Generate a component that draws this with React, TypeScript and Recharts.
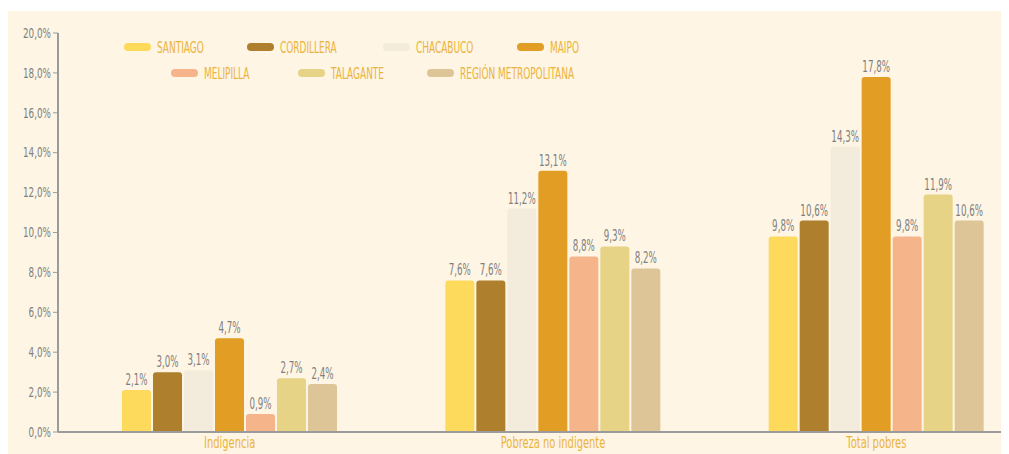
import { BarChart, Bar, XAxis, YAxis, LabelList } from "recharts";

const categories = ["Indigencia", "Pobreza no indigente", "Total pobres"];

const santiago = [2.1, 7.6, 9.8];
const cordillera = [3.0, 7.6, 10.6];
const chacabuco = [3.1, 11.2, 14.3];
const maipo = [4.7, 13.1, 17.8];
const melipilla = [0.9, 8.8, 9.8];
const talagante = [2.7, 9.3, 11.9];
const regionMetropolitana = [2.4, 8.2, 10.6];

const yTicks = [0, 2, 4, 6, 8, 10, 12, 14, 16, 18, 20];

const series = [
  { key: "santiago", name: "SANTIAGO", values: santiago, color: "#FDD95C" },
  { key: "cordillera", name: "CORDILLERA", values: cordillera, color: "#AE7F2D" },
  { key: "chacabuco", name: "CHACABUCO", values: chacabuco, color: "#F3ECDD" },
  { key: "maipo", name: "MAIPO", values: maipo, color: "#E29D25" },
  { key: "melipilla", name: "MELIPILLA", values: melipilla, color: "#F6B48B" },
  { key: "talagante", name: "TALAGANTE", values: talagante, color: "#E6D385" },
  {
    key: "rm",
    name: "REGIÓN METROPOLITANA",
    values: regionMetropolitana,
    color: "#DEC597",
  },
];

const data = categories.map((cat, i) => {
  const row: Record<string, string | number> = { cat };
  series.forEach((s) => {
    row[s.key] = s.values[i];
  });
  return row;
});

const FONT = "'DejaVu Sans', sans-serif";
const BG = "#FEF5E4";
const GOLD = "#EBB33A";
const GREY = "#7f7f7f";
const AXIS = "#9b9b9b";

const fmt = (v: number) => `${v.toFixed(1).replace(".", ",")}%`;

// the original uses a narrow display face; squeeze DejaVu horizontally
const YTick = (props: any) => {
  const { x, y, payload } = props;
  return (
    <text
      transform={`translate(${x},${y}) scale(0.63,1)`}
      textAnchor="end"
      dominantBaseline="central"
      fill={GREY}
      fontSize={14}
      fontFamily={FONT}
    >
      {fmt(payload.value)}
    </text>
  );
};

const XTick = (props: any) => {
  const { x, y, payload } = props;
  return (
    <text
      transform={`translate(${x},${y + 8}) scale(0.62,1)`}
      textAnchor="middle"
      fill={GOLD}
      fontSize={16}
      fontFamily={FONT}
    >
      {payload.value}
    </text>
  );
};

const ValueLabel = (props: any) => {
  const { x, y, width, value } = props;
  return (
    <text
      transform={`translate(${x + width / 2},${y - 5}) scale(0.58,1)`}
      textAnchor="middle"
      fill={GREY}
      fontSize={15}
      fontFamily={FONT}
    >
      {fmt(Number(value))}
    </text>
  );
};

// legend swatch x positions, two rows like the original
const legendPos = [
  [124, 36],
  [247, 36],
  [383, 36],
  [517, 36],
  [171, 62],
  [298, 62],
  [427, 62],
];

function Legend() {
  return (
    <>
      {series.map((s, i) => (
        <div
          key={s.key}
          style={{
            position: "absolute",
            left: legendPos[i][0] - 8,
            top: legendPos[i][1] - 10,
            height: 20,
            display: "flex",
            alignItems: "center",
            whiteSpace: "nowrap",
          }}
        >
          <span
            style={{
              display: "inline-block",
              width: 27,
              height: 8,
              borderRadius: 4,
              background: s.color,
              marginRight: 6,
            }}
          />
          <span
            style={{
              display: "inline-block",
              fontFamily: FONT,
              fontSize: 16,
              color: GOLD,
              transform: "scaleX(0.56)",
              transformOrigin: "left center",
            }}
          >
            {s.name}
          </span>
        </div>
      ))}
    </>
  );
}

export default function App() {
  return (
    <div style={{ width: 1000, height: 446, paddingTop: 3, boxSizing: "border-box", overflow: "hidden" }}>
      <div style={{ position: "relative", width: 1000, height: 443, background: BG, overflow: "hidden" }}>
        <BarChart
          width={1000}
          height={443}
          data={data}
          margin={{ top: 22, right: 0, bottom: 0, left: 0 }}
          barSize={29}
          barGap={2}
        >
          <XAxis
            dataKey="cat"
            height={22}
            padding={{ left: 10, right: -30 }}
            axisLine={{ stroke: AXIS, strokeWidth: 2 }}
            tickLine={false}
            tick={<XTick />}
          />
          <YAxis
            width={50}
            domain={[0, 20]}
            ticks={yTicks}
            interval={0}
            axisLine={{ stroke: AXIS, strokeWidth: 2 }}
            tickLine={{ stroke: AXIS }}
            tickSize={5}
            tickMargin={2}
            tick={<YTick />}
          />
          {series.map((s) => (
            <Bar
              key={s.key}
              dataKey={s.key}
              name={s.name}
              fill={s.color}
              radius={[3, 3, 0, 0]}
              isAnimationActive={false}
            >
              <LabelList dataKey={s.key} content={<ValueLabel />} />
            </Bar>
          ))}
        </BarChart>
        <Legend />
      </div>
    </div>
  );
}
